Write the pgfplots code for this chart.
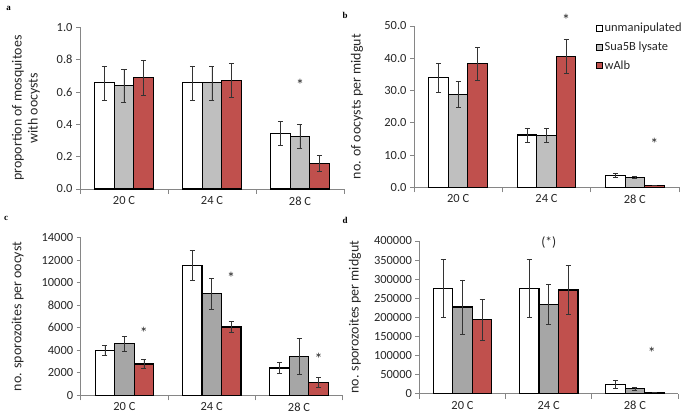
\documentclass[border=0pt]{standalone}
\usepackage{pgfplots}
\pgfplotsset{compat=1.18}
\usepackage{fontspec}
\setmainfont{Carlito}
\newfontfamily\serifb{Liberation Serif}
\definecolor{barred}{HTML}{C0504D}
\definecolor{bargrayA}{HTML}{BFBFBF}
\definecolor{bargrayC}{HTML}{A6A6A6}
\definecolor{axgray}{HTML}{868686}
\definecolor{txt}{HTML}{262626}

\tikzset{sig/.style={font=\fontsize{16}{18}\selectfont, text=txt, yshift=-3bp}}

\pgfplotsset{
  panel/.style={
    scale only axis, ybar=0pt, bar width=19.5bp,
    xmin=-0.5, xmax=2.5, ymin=0, clip=false,
    axis lines=left, axis line style={-, axgray, line width=0.8bp},
    xtick={0,1,2}, xticklabels={20 C,24 C,28 C},
    major x tick style={draw=none},
    minor xtick={-0.5,0.5,1.5,2.5},
    tick align=outside, major tick length=4bp, minor tick length=5bp,
    tick style={axgray, line width=0.8bp},
    tick label style={font=\fontsize{12.5}{14}\selectfont, text=txt},
    yticklabel style={/pgf/number format/assume math mode=true},
    ylabel style={font=\fontsize{14}{16}\selectfont, text=txt, anchor=center, align=center},
    every axis plot/.append style={draw=black, line width=1.1bp,
      error bars/y dir=both, error bars/y explicit,
      error bars/error bar style={line width=0.6bp, black!80},
      error bars/error mark options={line width=0.6bp, black!80, mark size=2.5bp, rotate=90}},
    legend image code/.code={\draw[#1, line width=0.9bp] (0bp,-3bp) rectangle (6bp,3bp);},
  },
  wbar/.style={fill=white},
  gbarA/.style={fill=bargrayA},
  gbarC/.style={fill=bargrayC},
  rbar/.style={fill=barred},
}

\begin{document}
\begin{tikzpicture}
\useasboundingbox (0,0) rectangle (685bp,418bp);

% ---------- panel a ----------
\begin{axis}[panel, at={(80bp,229bp)}, anchor=south west,
  width=264bp, height=161.7bp,
  ymax=1, ytick={0,0.2,...,1.0},
  yticklabel style={/pgf/number format/fixed, /pgf/number format/fixed zerofill, /pgf/number format/precision=1},
  ylabel={proportion of mosquitoes\\with oocysts},
  ylabel style={at={(axis description cs:-0.205,0.5)}},
]
\addplot[wbar] coordinates {(0,0.656) +- (0,0.105) (1,0.656) +- (0,0.105) (2,0.342) +- (0,0.074)};
\addplot[gbarA] coordinates {(0,0.639) +- (0,0.102) (1,0.656) +- (0,0.105) (2,0.324) +- (0,0.074)};
\addplot[rbar] coordinates {(0,0.689) +- (0,0.107) (1,0.672) +- (0,0.105) (2,0.159) +- (0,0.050)};
\node[sig] at (axis cs:2,0.66) {*};
\end{axis}

% ---------- panel b ----------
\begin{axis}[panel, at={(414bp,230.7bp)}, anchor=south west,
  width=265bp, height=161.3bp,
  ymax=50, ytick={0,10,...,50},
  yticklabel style={/pgf/number format/fixed, /pgf/number format/fixed zerofill, /pgf/number format/precision=1},
  ylabel={no. of oocysts per midgut},
  ylabel style={at={(axis description cs:-0.215,0.5)}},
  legend style={at={(axis description cs:0.685,1.03)}, anchor=north west, draw=none, fill=none,
    font=\fontsize{12.5}{15}\selectfont, text=txt, row sep=4.5bp, inner sep=0pt},
  legend cell align=left,
]
\addplot[wbar] coordinates {(0,33.9) +- (0,4.5) (1,16.2) +- (0,2.2) (2,3.7) +- (0,0.7)};
\addplot[gbarA] coordinates {(0,28.8) +- (0,4.0) (1,16.0) +- (0,2.2) (2,3.1) +- (0,0.4)};
\addplot[rbar] coordinates {(0,38.3) +- (0,5.1) (1,40.6) +- (0,5.4) (2,0.6) +- (0,0)};
\legend{unmanipulated, Sua5B lysate, wAlb}
\node[sig, xshift=19.5bp] at (axis cs:1,52.9) {*};
\node[sig, xshift=19.5bp] at (axis cs:2,14.5) {*};
\end{axis}

% ---------- panel c ----------
\begin{axis}[panel, at={(80.7bp,22.7bp)}, anchor=south west,
  width=262bp, height=157.6bp,
  ymax=14000, ytick={0,2000,...,14000},
  yticklabel style={/pgf/number format/1000 sep={}},
  scaled y ticks=false,
  ylabel={no. sporozoites per oocyst},
  ylabel style={at={(axis description cs:-0.24,0.5)}},
]
\addplot[wbar] coordinates {(0,3994) +- (0,440) (1,11538) +- (0,1330) (2,2422) +- (0,490)};
\addplot[gbarC] coordinates {(0,4586) +- (0,680) (1,9024) +- (0,1350) (2,3426) +- (0,1600)};
\addplot[rbar] coordinates {(0,2781) +- (0,385) (1,6065) +- (0,500) (2,1152) +- (0,470)};
\node[sig, xshift=19.5bp] at (axis cs:0,5858) {*};
\node[sig, xshift=19.5bp] at (axis cs:1,10680) {*};
\node[sig, xshift=19.5bp] at (axis cs:2,3515) {*};
\end{axis}

% ---------- panel d ----------
\begin{axis}[panel, at={(419.4bp,24.5bp)}, anchor=south west,
  width=258.6bp, height=152.5bp,
  ymax=400000, ytick={0,50000,...,400000},
  yticklabel style={/pgf/number format/1000 sep={}, /pgf/number format/fixed},
  scaled y ticks=false,
  ylabel={no. sporozoites per midgut},
  ylabel style={at={(axis description cs:-0.249,0.5)}},
]
\addplot[wbar] coordinates {(0,275800) +- (0,75000) (1,275800) +- (0,75000) (2,23600) +- (0,10000)};
\addplot[gbarC] coordinates {(0,226800) +- (0,71000) (1,233800) +- (0,53000) (2,12300) +- (0,3000)};
\addplot[rbar] coordinates {(0,193500) +- (0,54000) (1,271500) +- (0,64000) (2,2600) +- (0,0)};
\node[font=\fontsize{13.5}{15}\selectfont, text=txt] at (axis cs:1,396700) {(*)};
\node[sig, xshift=17bp] at (axis cs:2,115600) {*};
\end{axis}

% panel letters
\node[font=\serifb\bfseries\fontsize{9}{10}\selectfont] at (8.5bp,410bp) {a};
\node[font=\serifb\bfseries\fontsize{9}{10}\selectfont] at (345bp,403bp) {b};
\node[font=\serifb\bfseries\fontsize{9}{10}\selectfont] at (6bp,200bp) {c};
\node[font=\serifb\bfseries\fontsize{9}{10}\selectfont] at (345bp,198bp) {d};
\end{tikzpicture}
\end{document}
